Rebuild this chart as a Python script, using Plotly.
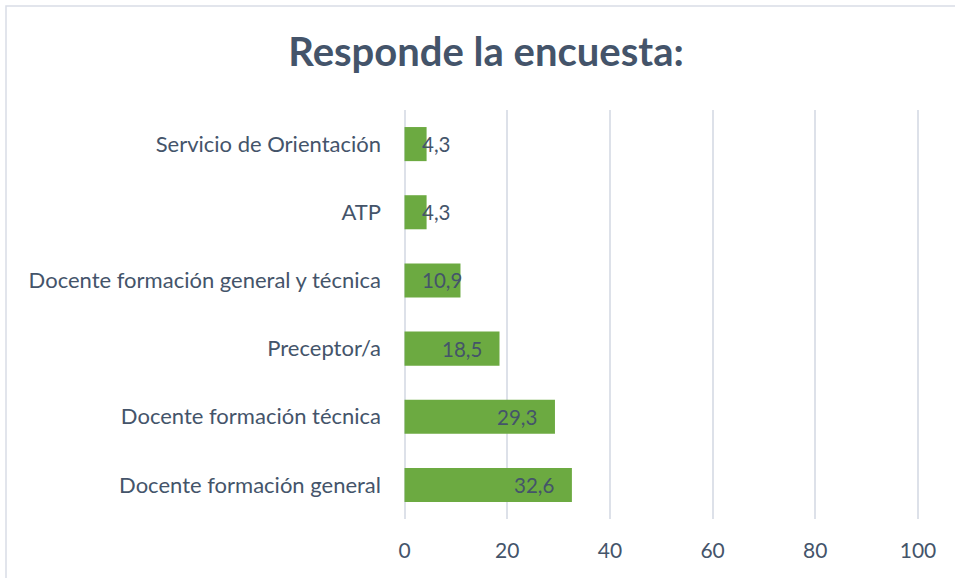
import plotly.graph_objects as go

categories = ["Docente formación general", "Docente formación técnica", "Preceptor/a",
              "Docente formación general y técnica", "ATP", "Servicio de Orientación"]
values = [32.6, 29.3, 18.5, 10.9, 4.3, 4.3]
value_labels = ["32,6", "29,3", "18,5", "10,9", "4,3", "4,3"]
x_ticks = [0, 20, 40, 60, 80, 100]

TEXT = "#44546A"
FONT = "Lato"
GRID = "#DDE1E9"

fig = go.Figure()
fig.add_trace(go.Bar(
    y=categories, x=values, orientation="h",
    marker=dict(color="#6CAA41", line=dict(width=0)),
    width=0.5, hoverinfo="x+y",
))

W, H = 955, 578
L, R, T, B = 404, 36, 110, 59
pw = W - L - R
ph = H - T - B

for cat, v, lab in zip(categories, values, value_labels):
    if v < 15:
        fig.add_annotation(x=0, y=cat, text=lab, showarrow=False, xanchor="left",
                           xshift=15, font=dict(family=FONT, size=20.5, color=TEXT))
    else:
        fig.add_annotation(x=v, y=cat, text=lab, showarrow=False, xanchor="right",
                           xshift=-16, font=dict(family=FONT, size=20.5, color=TEXT))

# gridline at the right edge (max tick)
fig.add_shape(type="line", xref="x", yref="paper", x0=x_ticks[-1], x1=x_ticks[-1], y0=0, y1=1,
              line=dict(color=GRID, width=1.5), layer="below")

fig.add_shape(type="rect", xref="paper", yref="paper",
              x0=(6 - L) / pw, x1=(W + 10 - L) / pw,
              y0=-(H + 10 - T - ph) / ph, y1=1 + (T - 6) / ph,
              line=dict(color="#D9DDE6", width=1.5), fillcolor="rgba(0,0,0,0)", layer="below")

fig.update_layout(
    width=W, height=H,
    margin=dict(l=L, r=R, t=T, b=B),
    paper_bgcolor="white", plot_bgcolor="white",
    title=dict(text="<b>Responde la encuesta:</b>", x=486 / W, xanchor="center",
               y=1 - 52 / H, yanchor="middle",
               font=dict(family=FONT, size=40, color=TEXT)),
    showlegend=False,
    xaxis=dict(range=[-0.1, 100.2], tickvals=x_ticks, ticktext=[str(t) for t in x_ticks],
               showgrid=True, gridcolor=GRID, gridwidth=1.5, zeroline=True,
               zerolinecolor=GRID, zerolinewidth=1.5,
               showline=False, ticks="", tickfont=dict(family=FONT, size=21, color=TEXT),
               ticklabelstandoff=17, fixedrange=True),
    yaxis=dict(categoryorder="array", categoryarray=categories, showgrid=False,
               showline=False, ticks="", tickfont=dict(family=FONT, size=22, color=TEXT),
               ticklabelstandoff=22, fixedrange=True),
)

fig.write_html("out.html", config={"displayModeBar": False},
               post_script="document.body.style.margin='0';document.body.style.overflow='hidden';")
